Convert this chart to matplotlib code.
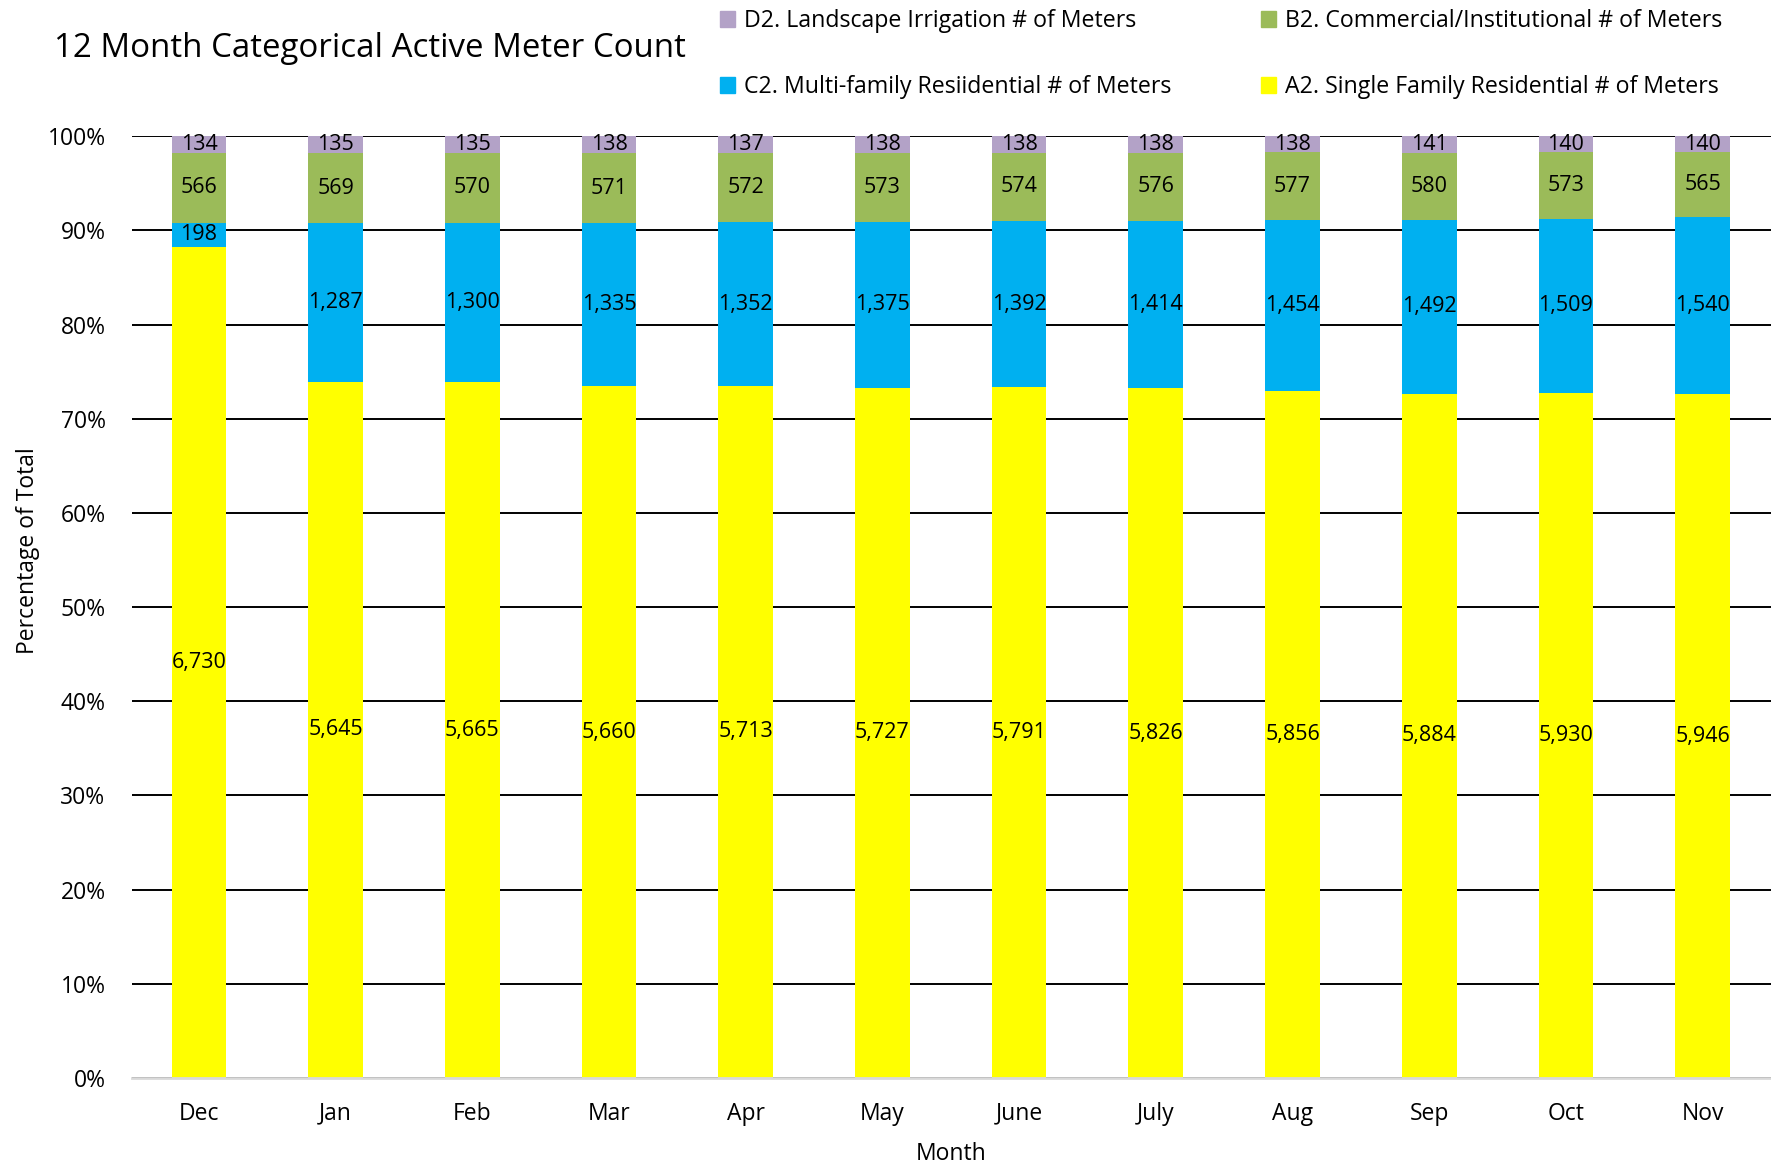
import numpy as np
import matplotlib
matplotlib.use('Agg')
import matplotlib.pyplot as plt
from matplotlib.patches import Patch

plt.rcParams['font.family'] = ['Open Sans', 'DejaVu Sans']

months = ['Dec', 'Jan', 'Feb', 'Mar', 'Apr', 'May', 'June', 'July', 'Aug', 'Sep', 'Oct', 'Nov']
single_family = [6730, 5645, 5665, 5660, 5713, 5727, 5791, 5826, 5856, 5884, 5930, 5946]
multi_family = [198, 1287, 1300, 1335, 1352, 1375, 1392, 1414, 1454, 1492, 1509, 1540]
commercial = [566, 569, 570, 571, 572, 573, 574, 576, 577, 580, 573, 565]
irrigation = [134, 135, 135, 138, 137, 138, 138, 138, 138, 141, 140, 140]

series = [
    ('A2. Single Family Residential # of Meters', single_family, '#FFFF00'),
    ('C2. Multi-family Resiidential # of Meters', multi_family, '#00B0F0'),
    ('B2. Commercial/Institutional # of Meters', commercial, '#9BBB59'),
    ('D2. Landscape Irrigation # of Meters', irrigation, '#B3A2C7'),
]

totals = np.sum([np.array(s[1]) for s in series], axis=0)

fig = plt.figure(figsize=(17.71, 11.65), dpi=100)
ax = fig.add_axes([0.0745, 0.0747, 0.9255, 0.8083])

x = np.arange(len(months))
bottom = np.zeros(len(months))
for name, vals, color in series:
    vals = np.array(vals)
    pct = vals / totals * 100
    ax.bar(x, pct, 0.4, bottom=bottom, color=color, zorder=3)
    for xi, b, p, v in zip(x, bottom, pct, vals):
        ax.text(xi, b + p / 2, f'{v:,}', ha='center', va='center', fontsize=15.5, zorder=4)
    bottom += pct

ax.set_xlim(-0.49, 11.5)
ax.set_ylim(0, 100)
ax.set_yticks(np.arange(0, 101, 10))
ax.set_yticklabels([f'{v}%' for v in range(0, 101, 10)], fontsize=16.5)
ax.set_xticks(x)
ax.set_xticklabels(months, fontsize=16.5)
ax.tick_params(axis='y', length=0, pad=19)
ax.tick_params(axis='x', length=0, pad=17)
ax.yaxis.grid(True, color='black', linewidth=1.4, zorder=1)
for s in ['top', 'right', 'left']:
    ax.spines[s].set_visible(False)
ax.spines['bottom'].set_color('#D9D9D9')
ax.spines['bottom'].set_linewidth(2)
ax.spines['bottom'].set_zorder(5)

ax.set_ylabel('Percentage of Total', fontsize=16.5)
ax.yaxis.set_label_coords(-0.056, 0.56)
ax.set_xlabel('Month', fontsize=16.5, labelpad=12)

fig.text(0.0306, 0.958, '12 Month Categorical Active Meter Count', fontsize=23.8, va='center', ha='left')

order = [3, 1, 2, 0]
handles = [Patch(color=series[i][2]) for i in order]
labels = [series[i][0] for i in order]
fig.legend(handles, labels, loc='upper left', bbox_to_anchor=(0.4065, 0.992), ncol=2,
           frameon=False, fontsize=16.7, handlelength=0.65, handleheight=0.65,
           handletextpad=0.4, labelspacing=1.8, columnspacing=3.85,
           borderpad=0, borderaxespad=0)

fig.savefig('out.png', dpi=100)
